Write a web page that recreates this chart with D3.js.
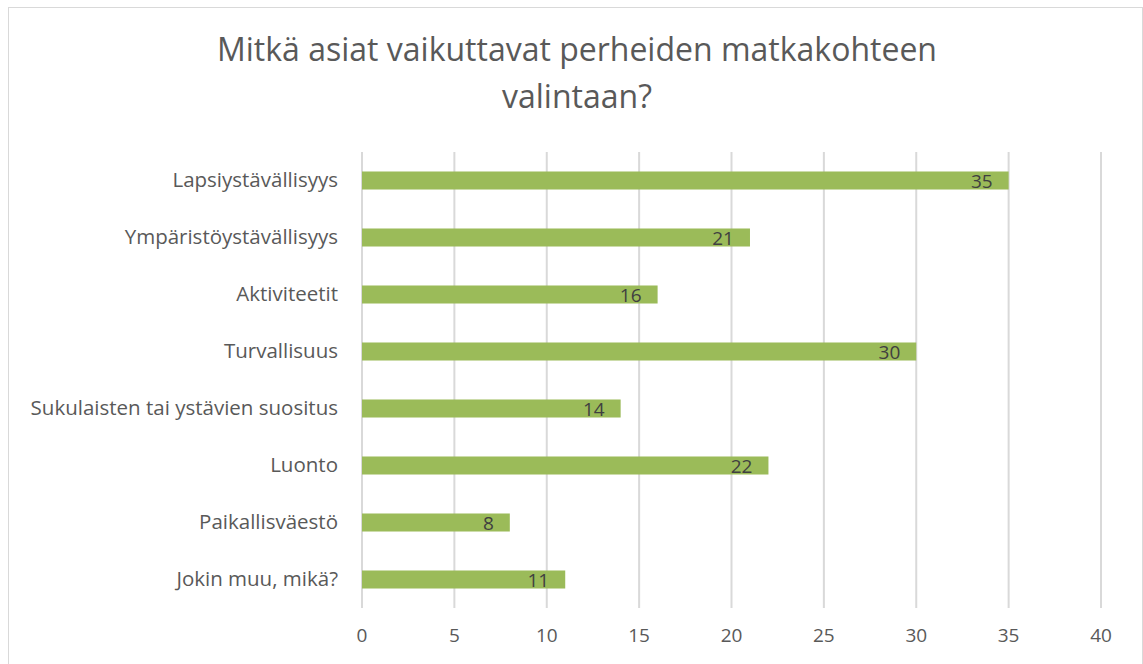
<!DOCTYPE html>
<html><head><meta charset="utf-8">
<script src="https://cdn.jsdelivr.net/npm/d3@7/dist/d3.min.js"></script>
<style>body{margin:0;background:#fff;}svg{display:block;}</style>
</head><body>
<svg id="c" width="1143" height="664"></svg>
<script>
const categories = ["Lapsiystävällisyys","Ympäristöystävällisyys","Aktiviteetit","Turvallisuus","Sukulaisten tai ystävien suositus","Luonto","Paikallisväestö","Jokin muu, mikä?"];
const values = [35,21,16,30,14,22,8,11];
const ticks = [0,5,10,15,20,25,30,35,40];
const titleLines = ["Mitkä asiat vaikuttavat perheiden matkakohteen","valintaan?"];

const svg = d3.select("#c");
const font = "'Open Sans', 'Noto Sans', sans-serif";
svg.append("rect").attr("x",8.5).attr("y",7.5).attr("width",1134).attr("height",670)
  .attr("fill","#fff").attr("stroke","#d9d9d9").attr("stroke-width",1);

const x = d3.scaleLinear().domain([0,40]).range([362,1101]);
const y = d3.scaleBand().domain(categories).range([152,608]).paddingInner(0.684).paddingOuter(0.342);

svg.append("g").selectAll("line").data(ticks).join("line")
  .attr("x1",d=>x(d)).attr("x2",d=>x(d)).attr("y1",152).attr("y2",608)
  .attr("stroke","#d9d9d9").attr("stroke-width",2);

svg.append("g").selectAll("rect").data(values).join("rect")
  .attr("x",x(0)).attr("y",(d,i)=>y(categories[i]))
  .attr("width",d=>x(d)-x(0)).attr("height",y.bandwidth())
  .attr("fill","#9bbb59");

svg.append("g").selectAll("text").data(values).join("text")
  .attr("x",d=>x(d)-16).attr("y",(d,i)=>y(categories[i])+y.bandwidth()/2+2)
  .attr("text-anchor","end").attr("dominant-baseline","middle")
  .attr("font-family",font).attr("font-size",19).attr("fill","#404040").text(d=>d);

svg.append("g").selectAll("text").data(categories).join("text")
  .attr("x",338).attr("y",d=>y(d)+y.bandwidth()/2+1)
  .attr("text-anchor","end").attr("dominant-baseline","middle")
  .attr("font-family",font).attr("font-size",20.5).attr("fill","#595959").text(d=>d);

svg.append("g").selectAll("text").data(ticks).join("text")
  .attr("x",d=>x(d)).attr("y",637).attr("text-anchor","middle").attr("dominant-baseline","middle")
  .attr("font-family",font).attr("font-size",19).attr("fill","#595959").text(d=>d);

svg.append("g").selectAll("text").data(titleLines).join("text")
  .attr("x",577).attr("y",(d,i)=>52+i*47).attr("text-anchor","middle").attr("dominant-baseline","middle")
  .attr("font-family",font).attr("font-size",32).attr("fill","#595959").text(d=>d);
</script>
</body></html>
